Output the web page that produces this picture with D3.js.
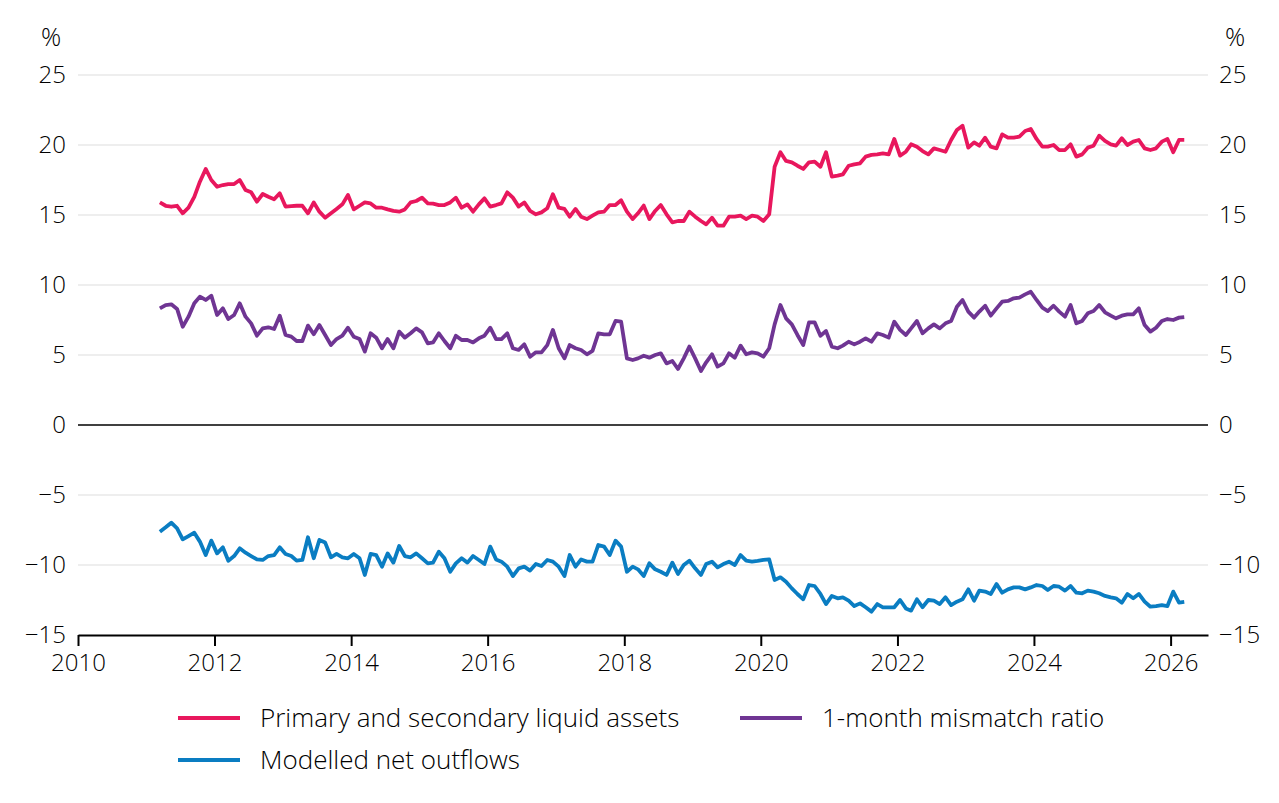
<!DOCTYPE html>
<html>
<head>
<meta charset="utf-8">
<script src="https://cdn.jsdelivr.net/npm/d3@7"></script>
<style>
  body { margin: 0; background: #fff; }
  svg { font-family: "Open Sans", "Noto Sans", sans-serif; font-weight: 300; }
</style>
</head>
<body>
<div id="main"></div>
<script>
const width = 1279;
const height = 803;

// monthly observations, Mar 2011 to Mar 2026
const liquidAssets = [
  15.9, 15.66, 15.59, 15.66, 15.12, 15.52, 16.3, 17.38, 18.29, 17.5,
  17.02, 17.14, 17.21, 17.21, 17.5, 16.79, 16.62, 15.95, 16.5, 16.3,
  16.12, 16.55, 15.6, 15.63, 15.66, 15.66, 15.12, 15.9, 15.24, 14.8,
  15.12, 15.43, 15.76, 16.43, 15.4, 15.66, 15.9, 15.83, 15.52, 15.52,
  15.4, 15.29,
  15.24, 15.4, 15.9, 16.0, 16.24, 15.83, 15.81, 15.71, 15.71, 15.9,
  16.24, 15.52, 15.76, 15.24, 15.76, 16.19, 15.6, 15.71, 15.83, 16.62,
  16.24, 15.6, 15.9, 15.29, 15.05, 15.19, 15.48, 16.48, 15.52, 15.43,
  14.88, 15.43, 14.88, 14.71, 14.95, 15.19, 15.24, 15.71, 15.71, 16.05,
  15.24, 14.71, 15.12, 15.67, 14.71, 15.29,
  15.71, 15.05, 14.48, 14.57, 14.57, 15.24, 14.88, 14.57, 14.33, 14.81,
  14.24, 14.24, 14.88, 14.88, 14.95, 14.71, 14.95, 14.88, 14.57, 15.05,
  18.45, 19.48, 18.86, 18.76, 18.52, 18.29, 18.76, 18.81, 18.45, 19.48,
  17.74, 17.81, 17.9, 18.52, 18.62, 18.69, 19.17, 19.29, 19.33, 19.4,
  19.33, 20.43, 19.24, 19.52, 20.05, 19.88, 19.57,
  19.33, 19.76, 19.64, 19.52, 20.36, 21.07, 21.38, 19.81, 20.19, 19.95,
  20.52, 19.88, 19.76, 20.76, 20.52, 20.52, 20.6, 21.0, 21.14, 20.43,
  19.88, 19.88, 20.0, 19.64, 19.64, 20.05, 19.17, 19.33, 19.81, 19.95,
  20.67, 20.29, 20.05, 19.95, 20.48, 20.0, 20.24, 20.36, 19.76, 19.64,
  19.76, 20.24, 20.43, 19.48, 20.36, 20.36
];

const mismatchRatio = [
  8.33, 8.57, 8.62, 8.29, 7.02, 7.74, 8.69, 9.17, 8.93, 9.24,
  7.86, 8.33, 7.57, 7.86, 8.69, 7.74, 7.26, 6.38, 6.9, 6.98,
  6.86, 7.81, 6.43, 6.31, 6.0, 6.0, 7.1, 6.48, 7.14, 6.43,
  5.71, 6.14, 6.38, 6.95, 6.31, 6.14, 5.24, 6.55, 6.24, 5.48,
  6.14,
  5.48, 6.67, 6.24, 6.55, 6.9, 6.62, 5.83, 5.9, 6.55, 6.0,
  5.48, 6.38, 6.07, 6.07, 5.9, 6.19, 6.38, 6.95, 6.14, 6.14,
  6.55, 5.48, 5.36, 5.76, 4.88, 5.19, 5.19, 5.71, 6.79, 5.48,
  4.76, 5.71, 5.48, 5.36, 5.05, 5.29, 6.55, 6.48, 6.48, 7.43,
  7.38, 4.76, 4.64, 4.76, 4.95, 4.81, 5.0,
  5.12, 4.4, 4.57, 4.0, 4.76, 5.6, 4.76, 3.86, 4.48, 5.05,
  4.17, 4.4, 5.12, 4.81, 5.67, 5.05, 5.19, 5.12, 4.88, 5.48,
  7.19, 8.57, 7.62, 7.19, 6.43, 5.71, 7.33, 7.33, 6.38, 6.71,
  5.6, 5.48, 5.67, 5.95, 5.76, 5.95, 6.19, 5.95, 6.55, 6.43,
  6.24, 7.38, 6.79, 6.43, 6.9, 7.43, 6.55,
  6.9, 7.19, 6.9, 7.26, 7.43, 8.45, 8.93, 8.1, 7.67, 8.1,
  8.52, 7.81, 8.33, 8.81, 8.86, 9.05, 9.1, 9.33, 9.52, 8.93,
  8.38, 8.14, 8.52, 8.1, 7.74, 8.57, 7.26, 7.43, 7.98, 8.14,
  8.57, 8.05, 7.81, 7.62, 7.81, 7.9, 7.9, 8.33, 7.14, 6.67,
  6.95, 7.43, 7.57, 7.5, 7.67, 7.71
];

const netOutflows = [
  -7.62, -7.31, -6.98, -7.38, -8.17, -7.93, -7.69, -8.33, -9.29, -8.26,
  -9.17, -8.74, -9.69, -9.36, -8.81, -9.12, -9.36, -9.6, -9.64, -9.36,
  -9.29, -8.74, -9.21, -9.36, -9.69, -9.64, -8.02, -9.52, -8.21, -8.4,
  -9.45, -9.21, -9.45, -9.52, -9.21, -9.52, -10.71, -9.21, -9.29, -10.12,
  -9.17,
  -9.83, -8.64, -9.36, -9.45, -9.17, -9.52, -9.88, -9.83, -9.05, -9.52,
  -10.48, -9.88, -9.52, -9.83, -9.36, -9.64, -9.93, -8.69, -9.6, -9.76,
  -10.12, -10.79, -10.24, -10.12, -10.4, -9.93, -10.07, -9.64, -9.76, -10.12,
  -10.79, -9.29, -10.12, -9.6, -9.76, -9.76, -8.57, -8.69, -9.29, -8.26,
  -8.69, -10.48, -10.12, -10.31, -10.79, -9.88, -10.31,
  -10.48, -10.71, -9.83, -10.64, -10.0, -9.69, -10.24, -10.71, -9.93, -9.76,
  -10.17, -9.93, -9.76, -10.0, -9.29, -9.69, -9.76, -9.71, -9.64, -9.6,
  -11.07, -10.88, -11.19, -11.67, -12.07, -12.45, -11.43, -11.5, -12.07, -12.79,
  -12.21, -12.38, -12.31, -12.55, -12.93, -12.74, -13.02, -13.33, -12.79, -13.02,
  -13.02, -13.02, -12.5, -13.1, -13.26, -12.45, -13.02,
  -12.5, -12.55, -12.79, -12.31, -12.86, -12.62, -12.45, -11.74, -12.55, -11.83,
  -11.9, -12.07, -11.36, -11.98, -11.74, -11.6, -11.6, -11.74, -11.6, -11.43,
  -11.5, -11.79, -11.5, -11.55, -11.83, -11.5, -11.98, -12.02, -11.83, -11.9,
  -12.02, -12.21, -12.31, -12.38, -12.69, -12.07, -12.38, -12.07, -12.62, -12.98,
  -12.93, -12.86, -12.93, -11.9, -12.69, -12.64
];

const months = d3.timeMonth.range(new Date(2011, 2, 1), new Date(2026, 3, 1))
    .map(d => d3.timeDay.offset(d, 14));

const yTicks = [-15, -10, -5, 0, 5, 10, 15, 20, 25];
const xTicks = [2010, 2012, 2014, 2016, 2018, 2020, 2022, 2024, 2026];

const seriesNames = ['Primary and secondary liquid assets', '1-month mismatch ratio', 'Modelled net outflows'];
const seriesColors = ['#e8175d', '#6f3593', '#0a7dc2'];
const seriesValues = [liquidAssets, mismatchRatio, netOutflows];

const svg = d3.select('#main')
    .append('svg')
    .attr('width', width)
    .attr('height', height);

const x = d3.scaleTime()
    .domain([new Date(2010, 0, 1), new Date(2026, 6, 20)])
    .range([78, 1208]);

const y = d3.scaleLinear()
    .domain([-15, 25])
    .range([635, 75]);

const fmt = d => d < 0 ? '\u2212' + Math.abs(d) : d;

// gridlines
svg.append('g')
    .selectAll('line')
    .data(yTicks.filter(d => d !== 0 && d !== -15))
    .enter()
    .append('line')
    .attr('x1', x.range()[0])
    .attr('x2', x.range()[1])
    .attr('y1', d => y(d))
    .attr('y2', d => y(d))
    .attr('stroke', '#dedede')
    .attr('stroke-width', 1.2);

svg.append('line')
    .attr('x1', x.range()[0])
    .attr('x2', x.range()[1])
    .attr('y1', y(0))
    .attr('y2', y(0))
    .attr('stroke', '#000')
    .attr('stroke-width', 1.5);

// left and right y labels
function styleAxis(g) {
    g.attr('font-family', null).attr('font-size', null);
    g.selectAll('text').attr('font-size', 24).attr('fill', '#000');
}

svg.append('g')
    .attr('transform', `translate(${x.range()[0]},0)`)
    .call(d3.axisLeft(y).tickValues(yTicks).tickSize(0).tickPadding(12).tickFormat(fmt))
    .call(g => g.select('.domain').remove())
    .call(styleAxis);

svg.append('g')
    .attr('transform', `translate(${x.range()[1]},0)`)
    .call(d3.axisRight(y).tickValues(yTicks).tickSize(0).tickPadding(11).tickFormat(fmt))
    .call(g => g.select('.domain').remove())
    .call(styleAxis);

svg.append('text').attr('x', 51).attr('y', 46).attr('text-anchor', 'middle')
    .attr('font-size', 25).text('%');
svg.append('text').attr('x', 1235).attr('y', 46).attr('text-anchor', 'middle')
    .attr('font-size', 25).text('%');

// x axis
const xAxis = d3.axisBottom(x)
    .tickValues(xTicks.map(yr => new Date(yr, 0, 1)))
    .tickFormat(d3.timeFormat('%Y'))
    .tickSize(11)
    .tickSizeOuter(0)
    .tickPadding(8);

svg.append('g')
    .attr('transform', `translate(0,${y(-15)})`)
    .call(xAxis)
    .call(g => g.select('.domain').attr('stroke', '#000').attr('stroke-width', 2))
    .call(g => g.selectAll('.tick line').attr('stroke', '#000').attr('stroke-width', 2))
    .call(styleAxis);

// series
const line = d3.line()
    .x((d, i) => x(months[i]))
    .y(d => y(d));

svg.append('g')
    .selectAll('path')
    .data(seriesValues)
    .enter()
    .append('path')
    .attr('d', line)
    .attr('fill', 'none')
    .attr('stroke', (d, i) => seriesColors[i])
    .attr('stroke-width', 3.8)
    .attr('stroke-linejoin', 'round');

// legend
const legendPos = [[178, 718], [740, 718], [178, 760]];

const legend = svg.append('g')
    .selectAll('g')
    .data(seriesNames)
    .enter()
    .append('g')
    .attr('transform', (d, i) => `translate(${legendPos[i][0]},${legendPos[i][1]})`);

legend.append('line')
    .attr('x1', 0)
    .attr('x2', 62)
    .attr('stroke', (d, i) => seriesColors[i])
    .attr('stroke-width', 4);

legend.append('text')
    .attr('x', 82)
    .attr('dy', '0.35em')
    .attr('font-size', 26)
    .text(d => d);
</script>
</body>
</html>
